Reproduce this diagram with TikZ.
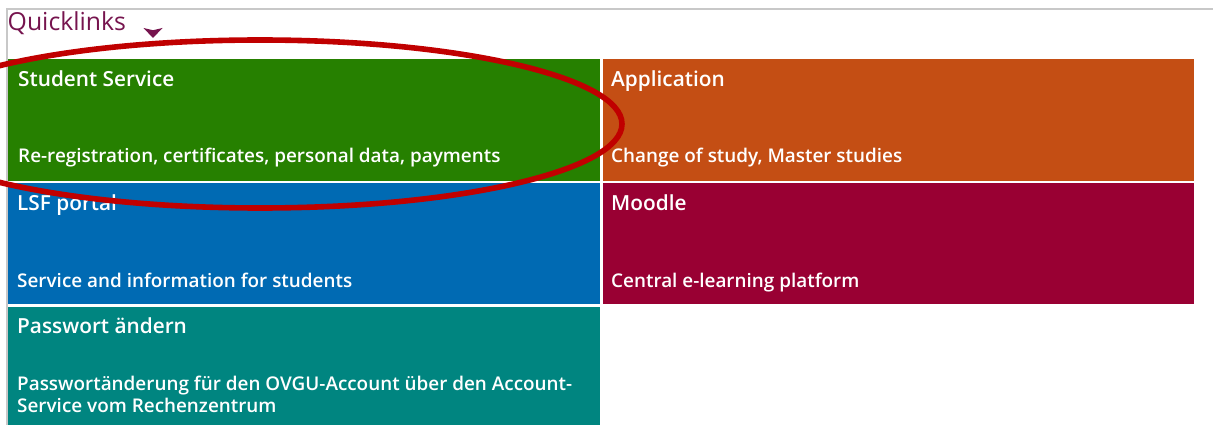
\documentclass[tikz,border=0pt]{standalone}
\usepackage{fontspec}
\setmainfont{Open Sans}[BoldFont={Open Sans Semibold}]
\definecolor{cgreen}{RGB}{38,128,0}
\definecolor{corange}{RGB}{196,78,20}
\definecolor{cblue}{RGB}{0,106,179}
\definecolor{ccrimson}{RGB}{153,0,51}
\definecolor{cteal}{RGB}{0,133,128}
\definecolor{cpurple}{RGB}{118,20,78}
\definecolor{cring}{RGB}{192,0,0}
\definecolor{cframe}{RGB}{200,200,200}
\tikzset{
  tile/.style={draw=none, inner sep=0pt, anchor=north west, minimum height=#1},
  tile/.default=122pt,
  ttl/.style={text=white, inner sep=0pt, anchor=base west, font=\bfseries\fontsize{20.8}{24}\selectfont},
  sub/.style={text=white, inner sep=0pt, anchor=base west, align=left, font=\bfseries\fontsize{18.9}{22}\selectfont},
  frameline/.style={draw=cframe, line width=2pt},
  ring/.style={draw=cring, line width=5.6pt}
}
\begin{document}
\begin{tikzpicture}[x=1pt,y=-1pt]
\useasboundingbox (0,0) rectangle (1213,425);
% frame
\coordinate (fr1) at (6.5,425);
\coordinate (fr2) at (6.5,9.5);
\coordinate (fr3) at (1213,9.5);
\draw[frameline] (fr1) -- (fr2) -- (fr3);
% header
\node[inner sep=0pt, anchor=base west, text=cpurple, font=\fontsize{24.8}{28}\selectfont] (ql) at (7.5,31) {Quicklinks};
\fill[cpurple] (143.5,28) -- (153,30.2) -- (162.5,28) -- (153,38) -- cycle;
% tiles
\node[tile, fill=cgreen, minimum width=592pt] (t1) at (8,59) {};
\node[tile, fill=corange, minimum width=591pt] (t2) at (603,59) {};
\node[tile=121pt, fill=cblue, minimum width=592pt] (t3) at (8,183) {};
\node[tile=121pt, fill=ccrimson, minimum width=591pt] (t4) at (603,183) {};
\node[tile=118pt, fill=cteal, minimum width=592pt] (t5) at (8,307) {};
% texts
\node[ttl] (t1a) at (18,87) {Student Service};
\node[sub] (t1b) at (18,163) {Re-registration, certificates, personal data, payments};
\node[ttl] (t2a) at (611,87) {Application};
\node[sub] (t2b) at (611,163) {Change of study, Master studies};
\node[ttl] (t3a) at (17,210.5) {LSF portal};
\node[sub] (t3b) at (17,287) {Service and information for students};
\node[ttl] (t4a) at (611,210.5) {Moodle};
\node[sub] (t4b) at (611,287) {Central e-learning platform};
\node[ttl] (t5a) at (17,333) {Passwort ändern};
\node[sub] (t5b) at (17,412.7) {Passwortänderung für den OVGU-Account über den Account-\\Service vom Rechenzentrum};
% highlight ring
\draw[ring] (260,124) ellipse [x radius=362, y radius=84];
\end{tikzpicture}
\end{document}
